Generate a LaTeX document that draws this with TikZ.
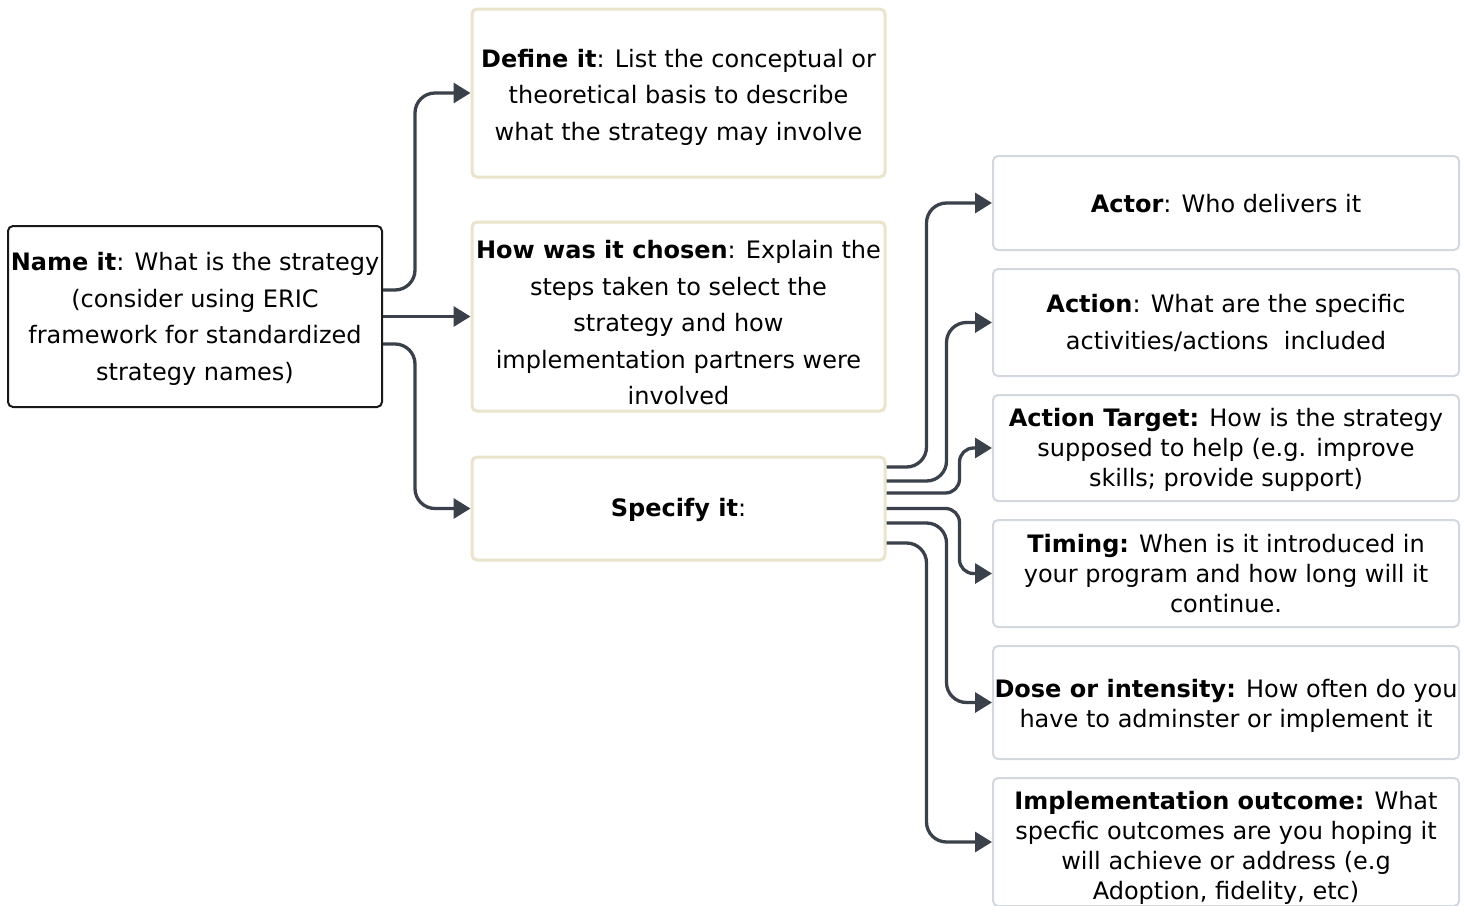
\documentclass[tikz,border=0pt]{standalone}
\usepackage{fontspec}
\setmainfont{DejaVu Sans}
\usetikzlibrary{arrows.meta}
\definecolor{beige}{HTML}{E9E4CB}
\definecolor{greyb}{HTML}{D3D8DF}
\definecolor{conncol}{HTML}{3A414B}
\tikzset{
  box/.style={draw, rounded corners=5pt, fill=white, inner sep=0pt},
  leftbox/.style={box, draw=beige, line width=3pt, minimum width=413pt},
  rightbox/.style={box, draw=greyb, line width=2pt, minimum width=466pt},
  txt/.style={align=center, inner sep=0pt, font=\fontsize{24}{36.5}\selectfont},
  txts/.style={align=center, inner sep=0pt, font=\fontsize{24}{30}\selectfont},
  conn/.style={draw=conncol, line width=3.3pt, rounded corners=20pt, -{Triangle[length=17pt,width=20pt]}}
}
\begin{document}
\begin{tikzpicture}[x=1pt,y=-1pt]
\useasboundingbox (0,0) rectangle (1464,905);
% left boxes
\node[box, draw=black!90, line width=2pt, minimum width=374pt, minimum height=181pt] (name) at (195,316.5) {};
\node[leftbox, minimum height=168pt] (define) at (678.5,93) {};
\node[leftbox, minimum height=189pt] (how) at (678.5,316.5) {};
\node[leftbox, minimum height=103pt] (spec) at (678.5,508.5) {};
% right boxes
\node[rightbox, minimum height=94pt] (actor) at (1226,203) {};
\node[rightbox, minimum height=107pt] (action) at (1226,322.5) {};
\node[rightbox, minimum height=106pt] (target) at (1226,448) {};
\node[rightbox, minimum height=107pt] (timing) at (1226,573.5) {};
\node[rightbox, minimum height=113pt] (dose) at (1226,702.5) {};
\node[rightbox, minimum height=128pt] (impl) at (1226,842) {};
% texts
\node[txt] (nametxt) at (195,319) {\textbf{Name it}: What is the strategy\\(consider using ERIC\\framework for standardized\\strategy names)};
\node[txt] (definetxt) at (678.5,97) {\textbf{Define it}: List the conceptual or\\theoretical basis to describe\\what the strategy may involve};
\node[txt] (howtxt) at (678.5,323) {\textbf{How was it chosen}: Explain the\\steps taken to select the\\strategy and how\\implementation partners were\\involved};
\node[txt] (spectxt) at (678.5,509.5) {\textbf{Specify it}:};
\node[txt] (actortxt) at (1226,204) {\textbf{Actor}: Who delivers it};
\node[txt] (actiontxt) at (1226,323) {\textbf{Action}: What are the specific\\activities/actions\ \ included};
\node[txts] (targettxt) at (1226,450) {\textbf{Action Target:} How is the strategy\\supposed to help (e.g. improve\\skills; provide support)};
\node[txts] (timingtxt) at (1226,574) {\textbf{Timing:} When is it introduced in\\your program and how long will it\\continue.};
\node[txts] (dosetxt) at (1226,706) {\textbf{Dose or intensity:} How often do you\\have to adminster or implement it};
\node[txts] (impltxt) at (1226,848) {\textbf{Implementation outcome:} What\\specfic outcomes are you hoping it\\will achieve or address (e.g\\Adoption, fidelity, etc)};
% connectors from name
\draw[conn] ([yshift=26.5pt]name.east) -- ++(32,0) |- (define.west);
\draw[conn] (name.east) -- (how.west);
\draw[conn] ([yshift=-27.5pt]name.east) -- ++(32,0) |- (spec.west);
% connectors from spec
\draw[conn] ([yshift=41.5pt]spec.east) -- ++(40,0) |- (actor.west);
\draw[conn] ([yshift=27.5pt]spec.east) -- ++(60,0) |- (action.west);
\draw[conn, rounded corners=14pt] ([yshift=15.5pt]spec.east) -- ++(73,0) |- (target.west);
\draw[conn, rounded corners=14pt] (spec.east) -- ++(73,0) |- (timing.west);
\draw[conn] ([yshift=-14.5pt]spec.east) -- ++(60,0) |- (dose.west);
\draw[conn] ([yshift=-34.5pt]spec.east) -- ++(40,0) |- (impl.west);
\end{tikzpicture}
\end{document}
